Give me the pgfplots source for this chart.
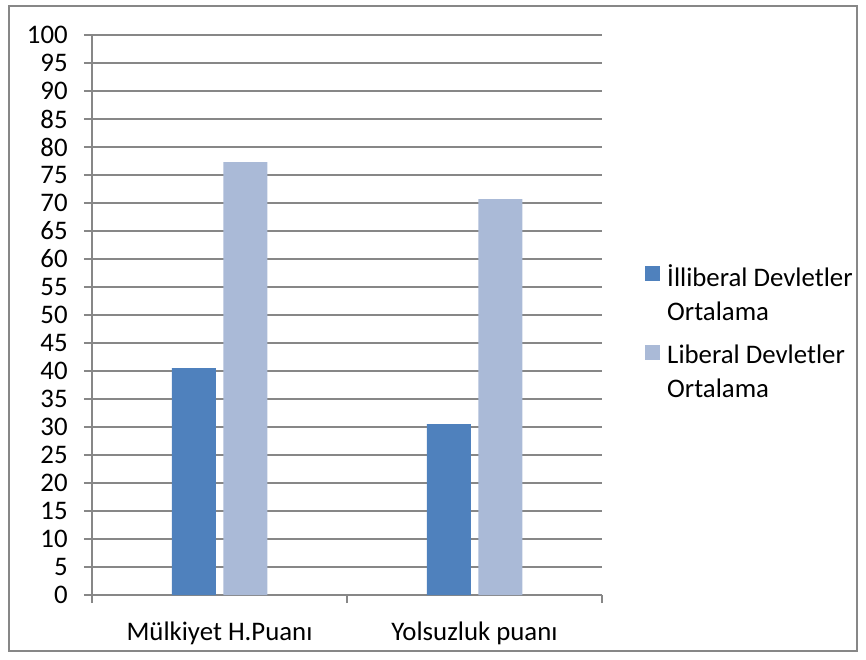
\documentclass[border=0pt]{standalone}
\usepackage{fontspec}
\setmainfont{Carlito}
\usepackage{pgfplots}
\pgfplotsset{compat=1.18}
\definecolor{darkbar}{HTML}{4F81BD}
\definecolor{lightbar}{HTML}{AABAD7}
\definecolor{gridc}{HTML}{878787}
\begin{document}
\fontsize{13.4pt}{17pt}\selectfont
\begin{tikzpicture}[font=\fontsize{13.4pt}{17pt}\selectfont]
\path (-46pt,-32pt) rectangle (387pt,297.5pt);
\draw[color=gridc, line width=0.6pt] (-41.5pt,-28pt) rectangle (382.5pt,294.5pt);
\begin{axis}[
  at={(0pt,0pt)}, anchor=south west,
  scale only axis, width=255pt, height=280pt,
  ybar=3.75pt, bar width=22pt,
  xmin=-0.5, xmax=1.5, ymin=0, ymax=100,
  axis x line*=bottom, axis y line*=left,
  axis line style={gridc, line width=0.7pt, -},
  xtick={-0.5,0.5,1.5}, xticklabels={},
  extra x ticks={0,1},
  extra x tick labels={Mülkiyet H.Puanı, Yolsuzluk puanı},
  extra x tick style={major tick length=0pt, grid=none,
    xticklabel style={yshift=-9pt}},
  ytick={0,5,...,100},
  tick align=outside, major tick length=4pt,
  tick style={gridc, line width=0.7pt},
  ymajorgrids, grid style={gridc, line width=0.7pt},
  yticklabel style={xshift=-3.5pt},
  /pgf/number format/assume math mode=true,
  legend style={at={(1.084,0.468)}, anchor=west, draw=none, fill=none,
    cells={anchor=west, align=left}, row sep=6.5pt, inner sep=0pt,
    column sep=1.5pt},
  legend image code/.code={\fill[#1] (0pt,6.75pt) rectangle (7.5pt,14.25pt);},
]
\addplot[fill=darkbar, draw=none] coordinates {(0,40.5) (1,30.5)};
\addplot[fill=lightbar, draw=none] coordinates {(0,77.3) (1,70.7)};
\legend{İlliberal Devletler\\Ortalama, Liberal Devletler\\Ortalama}
\end{axis}
\end{tikzpicture}
\end{document}
